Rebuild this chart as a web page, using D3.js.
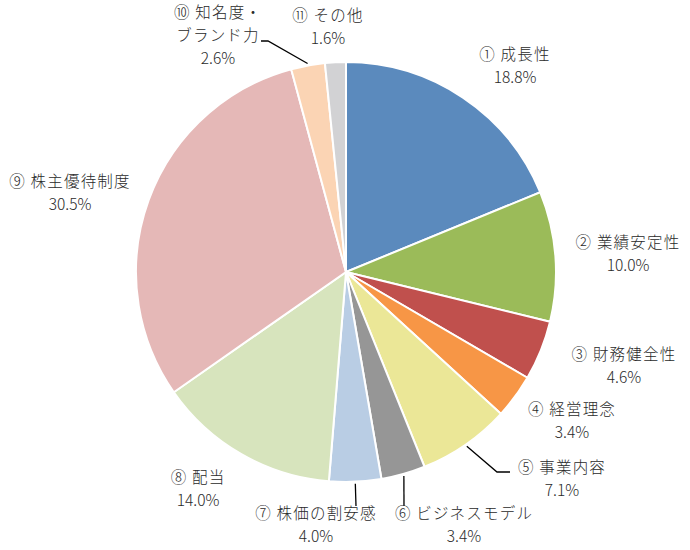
<!DOCTYPE html>
<html>
<head>
<meta charset="utf-8">
<script src="https://cdn.jsdelivr.net/npm/d3@7"></script>
<style>
  body { margin: 0; background: #fff; }
  svg text { font-family: "Noto Sans CJK JP", "Noto Sans", sans-serif; fill: #2a2a2a; font-weight: 300; }
</style>
</head>
<body>
<div id="chart"></div>
<script>
const categories = ['① 成長性', '② 業績安定性', '③ 財務健全性', '④ 経営理念', '⑤ 事業内容',
  '⑥ ビジネスモデル', '⑦ 株価の割安感', '⑧ 配当', '⑨ 株主優待制度', '⑩ 知名度・\nブランド力', '⑪ その他'];
const values = [18.8, 10.0, 4.6, 3.4, 7.1, 3.4, 4.0, 14.0, 30.5, 2.6, 1.6];
const colors = ['#5b8abd', '#9bbb59', '#c0504d', '#f79646', '#ebe797', '#969696',
  '#b9cde4', '#d7e4bd', '#e5b8b7', '#fbd4b4', '#d2d2d4'];

const width = 690, height = 550;
const cx = 346, cy = 272, radius = 210;

// label anchor (centre of first line) and optional leader end, per slice
const labelLayout = [
  { x: 515, y: 55 },
  { x: 628, y: 243 },
  { x: 624, y: 355 },
  { x: 572, y: 410 },
  { x: 562, y: 468, leader: [[497, 472], [510, 472]] },
  { x: 464, y: 514, leader: [[404, 506]] },
  { x: 316, y: 514, leader: [[356, 506]] },
  { x: 198, y: 478 },
  { x: 70, y: 182 },
  { x: 218, y: 13, leader: [[268, 41], [261, 41]] },
  { x: 328, y: 16 }
];

const svg = d3.select('#chart')
  .append('svg')
  .attr('width', width)
  .attr('height', height);

const g = svg.append('g').attr('transform', `translate(${cx},${cy})`);

const pie = d3.pie().sort(null).value(d => d);
const arcs = pie(values);
const arc = d3.arc().innerRadius(0).outerRadius(radius);

g.selectAll('path.slice')
  .data(arcs)
  .join('path')
  .attr('class', 'slice')
  .attr('d', arc)
  .attr('fill', (d, i) => colors[i])
  .attr('stroke', '#fff')
  .attr('stroke-width', 2);

// leader lines from slice edge
arcs.forEach((d, i) => {
  const lay = labelLayout[i];
  if (!lay.leader) return;
  const mid = (d.startAngle + d.endAngle) / 2;
  const r0 = radius + 2;
  const start = [cx + Math.sin(mid) * r0, cy - Math.cos(mid) * r0];
  const pts = [start, ...lay.leader];
  svg.append('path')
    .attr('d', d3.line()(pts))
    .attr('fill', 'none')
    .attr('stroke', '#000')
    .attr('stroke-width', 1.3);
});

const labels = svg.append('g').attr('class', 'labels');
categories.forEach((name, i) => {
  const lay = labelLayout[i];
  const lines = name.split('\n').concat([values[i].toFixed(1) + '%']);
  const t = labels.append('text')
    .attr('text-anchor', 'middle')
    .attr('font-size', 15.5);
  lines.forEach((ln, k) => {
    const last = k === lines.length - 1;
    t.append('tspan')
      .attr('x', lay.x)
      .attr('y', lay.y + k * 23 + 5)
      .attr('letter-spacing', last ? 0 : 1.2)
      .text(ln);
  });
});
</script>
</body>
</html>
